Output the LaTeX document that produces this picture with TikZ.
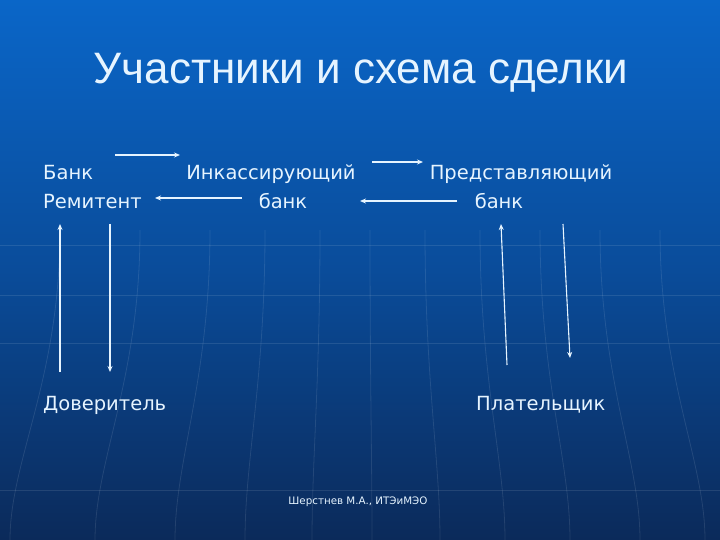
\documentclass[tikz,border=0pt]{standalone}
\usepackage{fontspec}
\setmainfont{DejaVu Sans}
\newfontfamily\titlefont{Liberation Sans}
\usetikzlibrary{arrows.meta}
\definecolor{bgtop}{HTML}{0A66C8}
\definecolor{bgmid}{HTML}{0A4C9A}
\definecolor{bgbot}{HTML}{0B2A5A}
\definecolor{ink}{HTML}{E6F4FF}
\tikzset{
  party/.style={text=ink, inner sep=0pt, font=\fontsize{19.5}{24}\selectfont},
  flow/.style={draw=ink, line width=1.1pt, -{Stealth[length=6pt,width=5pt]}},
  grid line/.style={draw=white, opacity=0.1, line width=0.8pt},
}
\begin{document}
\begin{tikzpicture}[x=1pt, y=-1pt]
      \useasboundingbox (0,0) rectangle (720,540);
      \shade[top color=bgtop, bottom color=bgbot, middle color=bgmid] (0,0) rectangle (720,540); % background
      %
      \foreach \yy in {245,295,343,490} \path[grid line] (0,\yy) -- (720,\yy); % faint globe
      \foreach \xx/\xb in {60/10,140/95,210/175,265/245,320/312,370/372,425/440,480/505,540/570,600/640,660/705}
        \path[grid line] (\xx,230) .. controls (\xx,380) and (\xb,460) .. (\xb,540);
      %
      \node[text=ink, font=\titlefont\fontsize{44}{50}\selectfont, anchor=base] (title) at (361,84) {Участники и схема сделки};
      %
      \node[party, anchor=base west] (remitA) at (43,180) {Банк};            % first row
      \node[party, anchor=base west] (remitB) at (43,208) {Ремитент};
      \node[party, anchor=base] (collA) at (271,180) {Инкассирующий};
      \node[party, anchor=base] (collB) at (283,208) {банк};
      \node[party, anchor=base] (presA) at (521,180) {Представляющий};
      \node[party, anchor=base] (presB) at (499,208) {банк};
      %%
      \node[party, anchor=base west] (principal) at (43,410) {Доверитель};  % second row
      \node[party, anchor=base west] (drawee) at (476,410) {Плательщик};
      %
      \node[text=ink, font=\fontsize{10.3}{12}\selectfont, anchor=base] (author) at (358,504) {Шерстнев М.А., ИТЭиМЭО};
      %
      \coordinate (a1) at (115,155); \coordinate (a2) at (180,155); % remitting -> collecting
      \coordinate (b1) at (242,198); \coordinate (b2) at (155,198);
      \coordinate (c1) at (372,162); \coordinate (c2) at (423,162); % collecting -> presenting
      \coordinate (d1) at (457,201); \coordinate (d2) at (360,201);
      \coordinate (e1) at (60,372);  \coordinate (e2) at (60,224);  % principal
      \coordinate (f1) at (110,224); \coordinate (f2) at (110,372);
      \coordinate (g1) at (507,365); \coordinate (g2) at (501,224); % drawee
      \coordinate (h1) at (563,224); \coordinate (h2) at (570,358);
      %
      \foreach \s/\t in {a1/a2,b1/b2,c1/c2,d1/d2,e1/e2,f1/f2,g1/g2,h1/h2}
        \draw[flow] (\s) -- (\t);
      %
    \end{tikzpicture}
\end{document}
